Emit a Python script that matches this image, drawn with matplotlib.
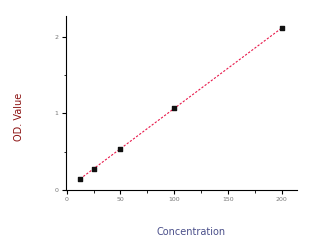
import numpy as np
import matplotlib
matplotlib.use("Agg")
import matplotlib.pyplot as plt
from matplotlib.ticker import MultipleLocator

concentration = [12.5, 25, 50, 100, 200]
od_value = [0.14, 0.27, 0.54, 1.07, 2.12]
x_ticks = [0, 50, 100, 150, 200]
y_ticks = [0, 1, 2]

fig = plt.figure(figsize=(3.28, 2.47), dpi=100)
ax = fig.add_axes([0.1997, 0.2308, 0.7049, 0.7042])

coef = np.polyfit(concentration, od_value, 1)
xfit = np.linspace(min(concentration), max(concentration), 100)
ax.plot(xfit, np.polyval(coef, xfit), color="#e8184a", lw=0.8, ls=(0, (2, 1.5)), zorder=2)
ax.scatter(concentration, od_value, marker="s", s=12, color="#111111", zorder=3)

ax.set_xlim(-1.1, 214)
ax.set_ylim(-0.005, 2.28)
ax.set_xticks(x_ticks)
ax.set_yticks(y_ticks)
ax.xaxis.set_minor_locator(MultipleLocator(25))
ax.yaxis.set_minor_locator(MultipleLocator(0.5))
for s in ["top", "right"]:
    ax.spines[s].set_visible(False)
for s in ["left", "bottom"]:
    ax.spines[s].set_linewidth(0.8)
ax.tick_params(which="major", direction="out", length=3, width=0.8, labelsize=4.5,
               labelcolor="#777777", pad=2)
ax.tick_params(which="minor", direction="out", length=1.8, width=0.6)

ax.set_xlabel("Concentration", fontsize=7, color="#4a4f8a")
ax.set_ylabel("OD. Value", fontsize=7, color="#8b1010")
ax.xaxis.set_label_coords(0.545, -0.215)
ax.yaxis.set_label_coords(-0.178, 0.42)

fig.savefig("out.png", dpi=100)
